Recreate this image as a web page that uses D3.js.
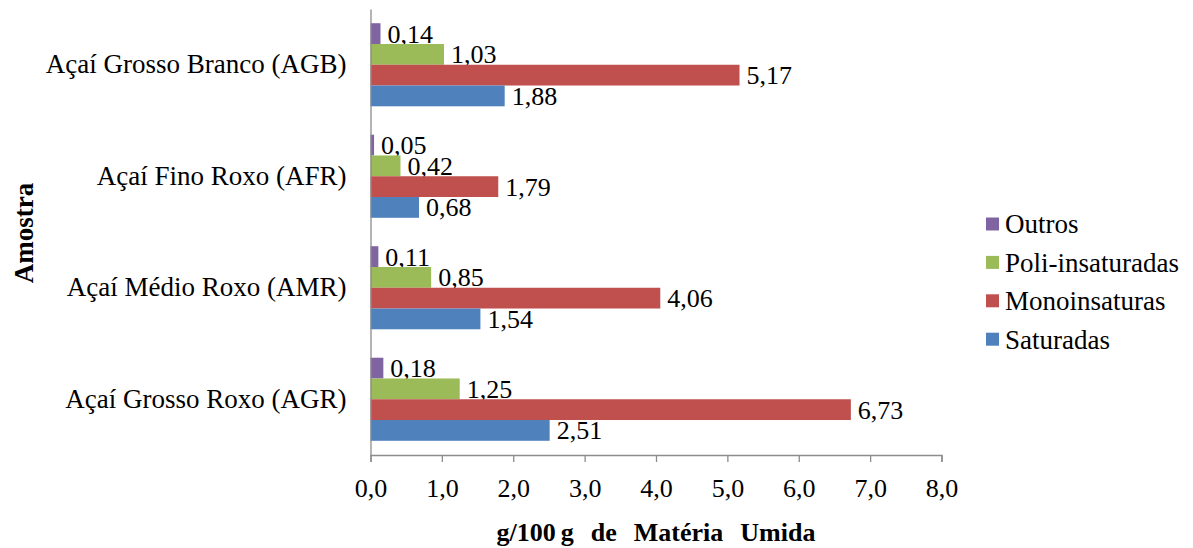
<!DOCTYPE html>
<html>
<head>
<meta charset="utf-8">
<script src="https://cdn.jsdelivr.net/npm/d3@7"></script>
<style>
  html, body { margin: 0; padding: 0; background: #fff; }
  svg { display: block; }
  .serif { font-family: "Liberation Serif", Tinos, "Times New Roman", serif; font-weight: 400; font-style: normal; }
</style>
</head>
<body>
<svg id="chart" width="1193" height="548"></svg>
<script>
// Amostras, de cima para baixo
const categories = [
  "Açaí Grosso Branco (AGB)",
  "Açaí Fino Roxo (AFR)",
  "Açaí Médio Roxo (AMR)",
  "Açaí Grosso Roxo (AGR)"
];
// Séries (ordem dentro de cada grupo, de cima para baixo)
const seriesNames = ["Outros", "Poli-insaturadas", "Monoinsaturas", "Saturadas"];
const seriesColors = ["#8064A2", "#9BBB59", "#C0504D", "#4F81BD"];
const outros     = [0.14, 0.05, 0.11, 0.18];
const poli       = [1.03, 0.42, 0.85, 1.25];
const mono       = [5.17, 1.79, 4.06, 6.73];
const saturadas  = [1.88, 0.68, 1.54, 2.51];
const xTicks = [0, 1, 2, 3, 4, 5, 6, 7, 8];

const seriesValues = [outros, poli, mono, saturadas];
const FONT = "Liberation Serif";
const fmt = v => d3.format(".2f")(v).replace(".", ",");
const fmtTick = v => d3.format(".1f")(v).replace(".", ",");

const svg = d3.select("#chart");
const plot = { left: 370.5, right: 941.5, top: 9, bottom: 455 };

const x = d3.scaleLinear().domain([0, 8]).range([plot.left, plot.right]);
const y = d3.scaleBand().domain(categories).range([plot.top, plot.bottom])
  .paddingInner(0.255).paddingOuter(0.1275);
const ySub = d3.scaleBand().domain(seriesNames).range([0, y.bandwidth()]);

// Texto em fonte serifada (Times)
function serifText(sel, size, bold) {
  return sel.attr("class", "serif")
    .attr("font-family", FONT)
    .attr("font-size", size)
    .attr("font-weight", bold ? "bold" : "normal")
    .style("font-size", size + "px")
    .style("font-weight", bold ? "700" : "400")
    .attr("fill", "#000");
}

// Barras e rótulos de valor
const groups = svg.append("g").selectAll("g")
  .data(categories)
  .join("g")
  .attr("transform", d => `translate(0,${y(d)})`);

groups.each(function(cat, ci) {
  const g = d3.select(this);
  seriesNames.forEach((s, si) => {
    const v = seriesValues[si][ci];
    g.append("rect")
      .attr("x", x(0))
      .attr("y", ySub(s))
      .attr("width", x(v) - x(0))
      .attr("height", ySub.bandwidth())
      .attr("fill", seriesColors[si]);
    serifText(g.append("text"), 26)
      .attr("x", x(v) + 7)
      .attr("y", ySub(s) + ySub.bandwidth() / 2)
      .attr("dy", "0.35em")
      .text(fmt(v));
  });
});

// Eixo X
const xAxis = svg.append("g")
  .attr("transform", `translate(0,${plot.bottom})`)
  .call(d3.axisBottom(x).tickValues(xTicks).tickFormat(fmtTick).tickSize(7).tickPadding(17));
xAxis.attr("font-family", FONT);
xAxis.select(".domain").attr("stroke", "#8c8c8c").attr("stroke-width", 1.3);
xAxis.selectAll(".tick line").attr("stroke", "#8c8c8c").attr("stroke-width", 1.3);
serifText(xAxis.selectAll(".tick text"), 26);

// Eixo Y
const yAxis = svg.append("g")
  .attr("transform", `translate(${plot.left},0)`)
  .call(d3.axisLeft(y).tickSize(0).tickPadding(24));
yAxis.attr("font-family", FONT);
yAxis.select(".domain").attr("stroke", "#8c8c8c").attr("stroke-width", 1.3);
serifText(yAxis.selectAll(".tick text"), 27);

// Título do eixo X
const xTitle = serifText(svg.append("text"), 26, true)
  .attr("x", (plot.left + plot.right) / 2)
  .attr("y", 541)
  .attr("text-anchor", "middle");
[["g/100", 0], ["g", 5], ["de", 17], ["Matéria", 17], ["Umida", 17]].forEach(([w, dx]) => {
  xTitle.append("tspan").attr("dx", dx).text(w);
});

// Título do eixo Y
serifText(svg.append("text"), 27, true)
  .attr("transform", `translate(33,${(plot.top + plot.bottom) / 2 + 1}) rotate(-90)`)
  .attr("text-anchor", "middle")
  .text("Amostra");

// Legenda
const legend = svg.append("g").attr("transform", "translate(986,224)");
seriesNames.forEach((s, i) => {
  const row = legend.append("g").attr("transform", `translate(0,${i * 38.4})`);
  row.append("rect").attr("x", 0).attr("y", -6.5).attr("width", 13).attr("height", 13)
    .attr("fill", seriesColors[i]);
  serifText(row.append("text"), 27)
    .attr("x", 19).attr("y", 0).attr("dy", "0.35em")
    .text(s);
});
</script>
</body>
</html>
